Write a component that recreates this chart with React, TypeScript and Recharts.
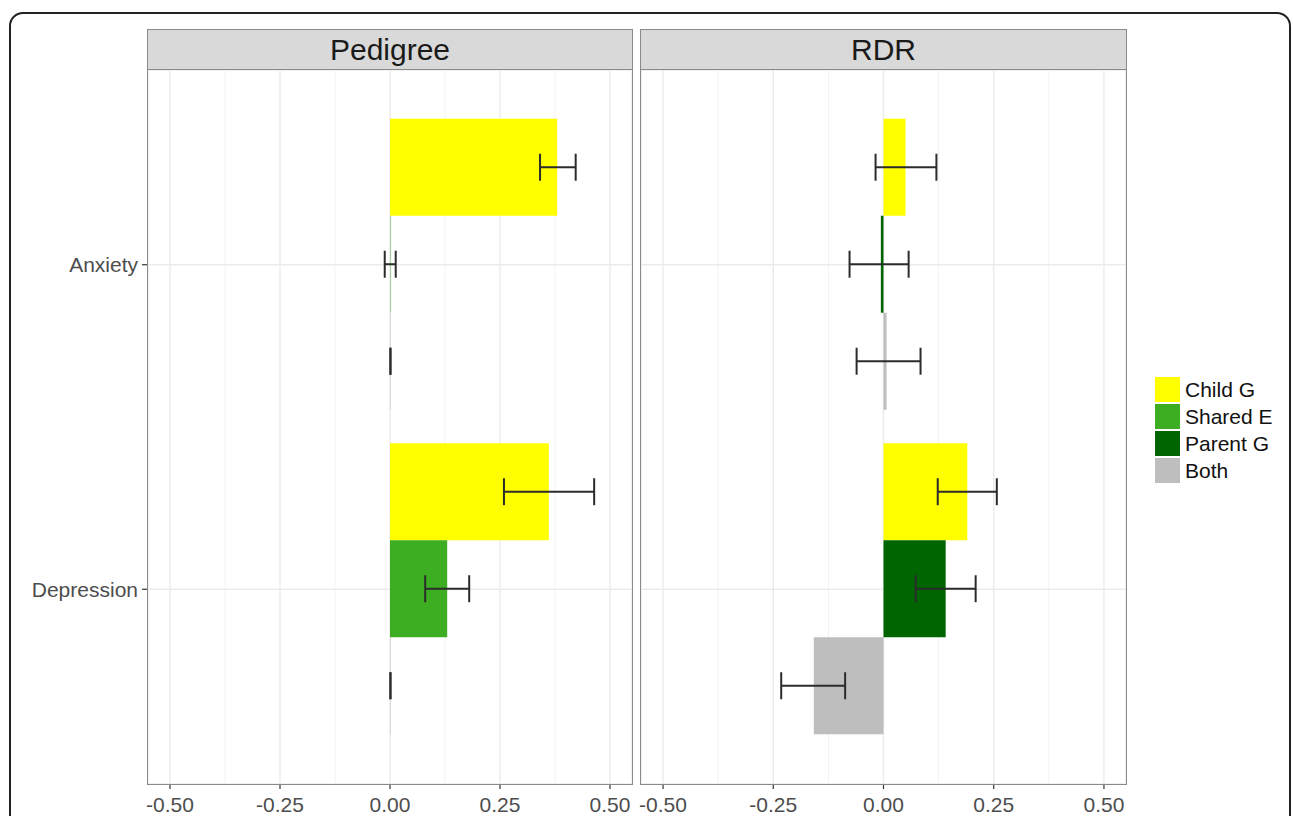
import React from 'react';
import { BarChart, Bar, XAxis, YAxis, CartesianGrid, ErrorBar } from 'recharts';

const categories = ['Anxiety', 'Depression'];

// Pedigree panel
const pedChildG = [0.38, 0.361];
const pedChildGLo = [0.341, 0.259];
const pedChildGHi = [0.422, 0.464];
const pedSharedE = [0.001, 0.13];
const pedSharedELo = [-0.012, 0.08];
const pedSharedEHi = [0.013, 0.18];
const pedBoth = [0.001, 0.001];
const pedBothLo = [0.001, 0.001];
const pedBothHi = [0.001, 0.001];

// RDR panel
const rdrChildG = [0.05, 0.19];
const rdrChildGLo = [-0.018, 0.123];
const rdrChildGHi = [0.12, 0.257];
const rdrParentG = [-0.006, 0.141];
const rdrParentGLo = [-0.077, 0.073];
const rdrParentGHi = [0.057, 0.209];
const rdrBoth = [0.007, -0.158];
const rdrBothLo = [-0.061, -0.232];
const rdrBothHi = [0.084, -0.087];

const xTicks = [-0.5, -0.25, 0, 0.25, 0.5];
const xMinor = [-0.375, -0.125, 0.125, 0.375];

const legendItems = [
  { label: 'Child G', color: '#FFFF00' },
  { label: 'Shared E', color: '#3DAE21' },
  { label: 'Parent G', color: '#006400' },
  { label: 'Both', color: '#BEBEBE' },
];

const FONT = '"Liberation Sans", Arial, Helvetica, sans-serif';

const err = (v: number, lo: number, hi: number) => [v - lo, hi - v];

const pedData = categories.map((c, i) => ({
  cat: c,
  a: pedChildG[i],
  aErr: err(pedChildG[i], pedChildGLo[i], pedChildGHi[i]),
  b: pedSharedE[i],
  bErr: err(pedSharedE[i], pedSharedELo[i], pedSharedEHi[i]),
  c: pedBoth[i],
  cErr: err(pedBoth[i], pedBothLo[i], pedBothHi[i]),
}));

const rdrData = categories.map((c, i) => ({
  cat: c,
  a: rdrChildG[i],
  aErr: err(rdrChildG[i], rdrChildGLo[i], rdrChildGHi[i]),
  b: rdrParentG[i],
  bErr: err(rdrParentG[i], rdrParentGLo[i], rdrParentGHi[i]),
  c: rdrBoth[i],
  cErr: err(rdrBoth[i], rdrBothLo[i], rdrBothHi[i]),
}));

const tickStyle = { fill: '#4D4D4D', fontSize: 21, fontFamily: FONT };

function Panel({ data, colors, showY, width, margin }: any) {
  return (
    <BarChart
      width={width}
      height={816}
      data={data}
      layout="vertical"
      margin={margin}
      barCategoryGap="5%"
      barGap={0}
    >
      <CartesianGrid stroke="#F2F2F2" strokeWidth={1} horizontal={false} vertical verticalValues={xMinor} />
      <CartesianGrid stroke="#EBEBEB" strokeWidth={1.4} vertical horizontal />
      <XAxis
        type="number"
        domain={[-0.55, 0.55]}
        ticks={xTicks}
        interval={0}
        allowDataOverflow
        tickFormatter={(v: number) => v.toFixed(2)}
        tick={tickStyle}
        tickLine={{ stroke: '#333333', strokeWidth: 1.2 }}
        tickSize={5}
        tickMargin={8}
        axisLine={false}
        height={32}
      />
      <YAxis
        type="category"
        dataKey="cat"
        hide={!showY}
        width={showY ? 148 : 0}
        padding={{ top: 32.5, bottom: 32.5 }}
        tick={tickStyle}
        tickLine={{ stroke: '#333333', strokeWidth: 1.2 }}
        tickSize={6}
        tickMargin={4}
        axisLine={false}
      />
      <Bar dataKey="a" fill={colors[0]} isAnimationActive={false}>
        <ErrorBar dataKey="aErr" direction="x" width={13.5} stroke="#2B2B2B" strokeWidth={2} />
      </Bar>
      <Bar dataKey="b" fill={colors[1]} isAnimationActive={false}>
        <ErrorBar dataKey="bErr" direction="x" width={13.5} stroke="#2B2B2B" strokeWidth={2} />
      </Bar>
      <Bar dataKey="c" fill={colors[2]} isAnimationActive={false}>
        <ErrorBar dataKey="cErr" direction="x" width={13.5} stroke="#2B2B2B" strokeWidth={2} />
      </Bar>
    </BarChart>
  );
}

const borderCol = '#8A8A8A';

function Strip({ left, width, label }: any) {
  return (
    <div
      style={{
        position: 'absolute',
        left,
        top: 29,
        width,
        height: 41,
        boxSizing: 'border-box',
        background: '#D9D9D9',
        border: `1.5px solid ${borderCol}`,
        display: 'flex',
        alignItems: 'center',
        justifyContent: 'center',
        fontFamily: FONT,
        fontSize: 30,
        color: '#1A1A1A',
      }}
    >
      {label}
    </div>
  );
}

function PanelBorder({ left, width }: any) {
  return (
    <div
      style={{
        position: 'absolute',
        left,
        top: 69,
        width,
        height: 716,
        boxSizing: 'border-box',
        border: `1.5px solid ${borderCol}`,
        pointerEvents: 'none',
      }}
    />
  );
}

export default function App() {
  return (
    <div
      style={{
        position: 'absolute',
        left: 0,
        top: 0,
        width: 1293,
        height: 816,
        overflow: 'hidden',
        background: '#FFFFFF',
      }}
    >
      <div
        style={{
          position: 'absolute',
          left: 9,
          top: 12,
          width: 1282,
          height: 900,
          boxSizing: 'border-box',
          border: '2px solid #222222',
          borderRadius: 14,
        }}
      />
      <div style={{ position: 'absolute', left: 0, top: 0 }}>
        <Panel
          data={pedData}
          colors={['#FFFF00', '#3DAE21', '#BEBEBE']}
          showY
          width={640}
          margin={{ top: 70, right: 8, bottom: 0, left: 0 }}
        />
      </div>
      <div style={{ position: 'absolute', left: 633, top: 0 }}>
        <Panel
          data={rdrData}
          colors={['#FFFF00', '#006400', '#BEBEBE']}
          showY={false}
          width={500}
          margin={{ top: 70, right: 7, bottom: 0, left: 8 }}
        />
      </div>
      <PanelBorder left={147} width={486} />
      <PanelBorder left={640} width={487} />
      <Strip left={147} width={486} label="Pedigree" />
      <Strip left={640} width={487} label="RDR" />
      <div style={{ position: 'absolute', left: 1155, top: 376 }}>
        {legendItems.map((it) => (
          <div key={it.label} style={{ display: 'flex', alignItems: 'center', height: 27 }}>
            <div style={{ width: 25, height: 25, background: it.color }} />
            <div
              style={{
                marginLeft: 5,
                fontFamily: FONT,
                fontSize: 21,
                color: '#111111',
                whiteSpace: 'nowrap',
              }}
            >
              {it.label}
            </div>
          </div>
        ))}
      </div>
    </div>
  );
}
